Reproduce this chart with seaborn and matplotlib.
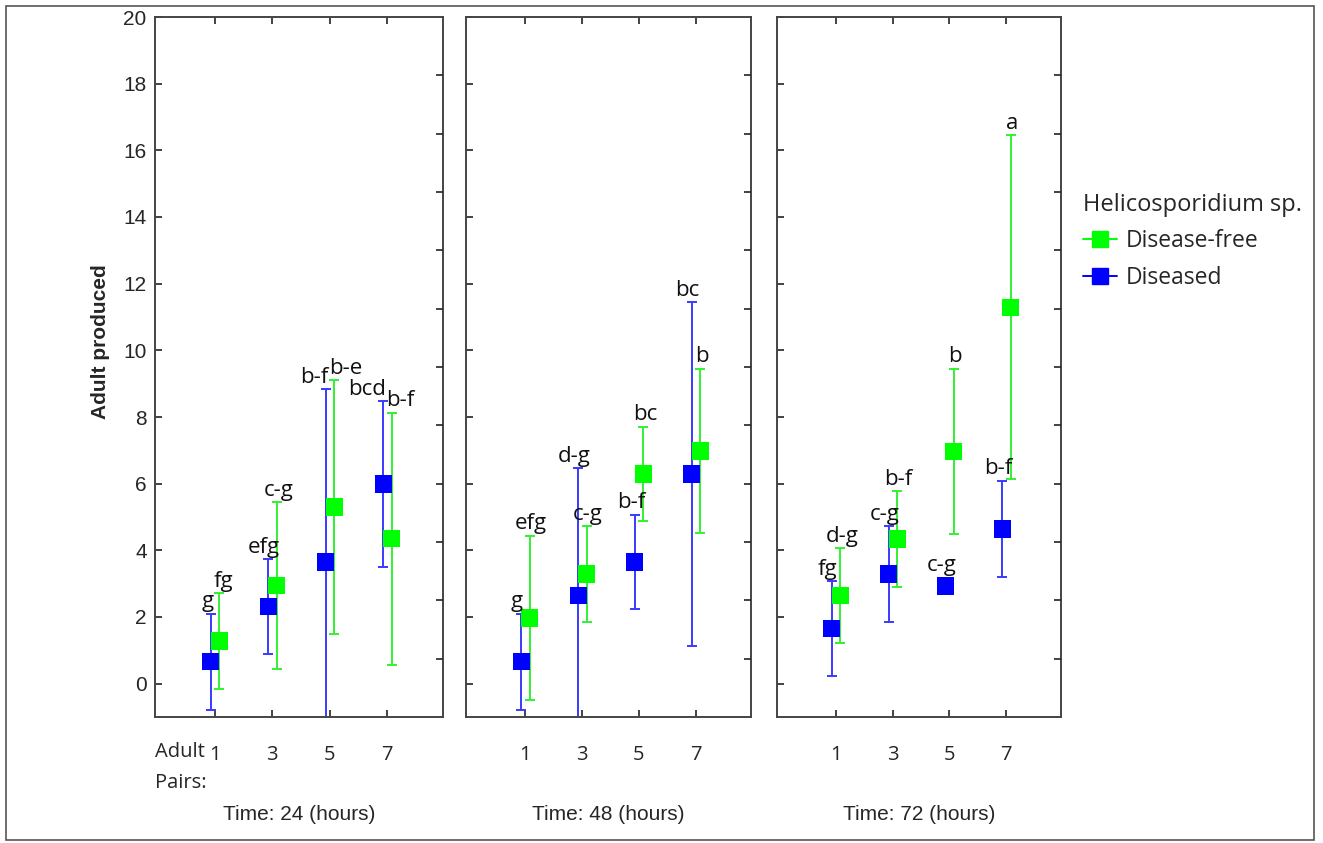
import numpy as np
import pandas as pd
import matplotlib
matplotlib.use("Agg")
import matplotlib.pyplot as plt
from matplotlib.lines import Line2D
from matplotlib.patches import Rectangle
import seaborn as sns

TIMES = ["24", "48", "72"]
PAIRS = ["1", "3", "5", "7"]
GROUPS = ["Disease-free", "Diseased"]

# mean adults produced, rows = time (24, 48, 72 h), cols = adult pairs (1, 3, 5, 7)
free_mean = [[1.28, 2.95, 5.30, 4.35],
             [1.97, 3.29, 6.29, 6.98],
             [2.64, 4.34, 6.97, 11.29]]
free_err = [[1.43, 2.50, 3.80, 3.78],
            [2.47, 1.44, 1.42, 2.47],
            [1.42, 1.44, 2.48, 5.16]]
sick_mean = [[0.66, 2.31, 3.65, 5.99],
             [0.66, 2.64, 3.65, 6.29],
             [1.65, 3.29, 2.93, 4.64]]
sick_err = [[1.44, 1.42, 5.18, 2.48],
            [1.44, 3.83, 1.42, 5.16],
            [1.43, 1.43, 0.00, 1.45]]
free_letters = [["fg", "c-g", "b-e", "b-f"],
                ["efg", "c-g", "bc", "b"],
                ["d-g", "b-f", "b", "a"]]
sick_letters = [["g", "efg", "b-f", "bcd"],
                ["g", "d-g", "b-f", "bc"],
                ["fg", "c-g", "c-g", "b-f"]]

COLORS = {"Disease-free": "#00FF00", "Diseased": "#0000FF"}
BAR_COLORS = {"Disease-free": "#33F033", "Diseased": "#3A3AFF"}
OFFSET = {"Disease-free": 0.08, "Diseased": -0.07}

rows = []
for ti, t in enumerate(TIMES):
    for pi, p in enumerate(PAIRS):
        rows.append([t, pi, p, "Disease-free", free_mean[ti][pi], free_err[ti][pi], free_letters[ti][pi]])
        rows.append([t, pi, p, "Diseased", sick_mean[ti][pi], sick_err[ti][pi], sick_letters[ti][pi]])
df = pd.DataFrame(rows, columns=["time", "idx", "pairs", "group", "mean", "err", "letter"])
df["x"] = df["idx"] + df["group"].map(OFFSET)
df["top"] = np.maximum(df["mean"] + df["err"], df["mean"] + 0.25)

sns.set_theme(style="white")
plt.rcParams["font.family"] = ["Liberation Sans", "DejaVu Sans"]

W, H = 1323, 843
fig = plt.figure(figsize=(W / 100, H / 100), dpi=100)
fig.patches.append(Rectangle((6 / W, 3 / H), 1308 / W, 834 / H, transform=fig.transFigure,
                             fill=False, edgecolor="#555555", linewidth=1.2))

panels = [(155, 288), (466, 285), (777, 284)]
top_px, bot_px = 17, 717

for i, t in enumerate(TIMES):
    left, width = panels[i]
    ax = fig.add_axes([left / W, 1 - bot_px / H, width / W, (bot_px - top_px) / H])
    sub = df[df["time"] == t]
    for g in GROUPS:
        s = sub[sub["group"] == g]
        ax.errorbar(s["x"], s["mean"], yerr=s["err"], fmt="none", ecolor=BAR_COLORS[g],
                    elinewidth=1.4, capsize=3.5, capthick=1.4, zorder=2)
    sns.scatterplot(data=sub, x="x", y="mean", hue="group", palette=COLORS, marker="s",
                    s=150, linewidth=0, legend=False, ax=ax, zorder=3)

    # significance letters above each bar; when both labels of a pair sit at
    # nearly the same height they are pushed apart sideways
    for pi in range(len(PAIRS)):
        pair = sub[sub["idx"] == pi].set_index("group")
        close = abs(pair.loc["Diseased", "top"] - pair.loc["Disease-free", "top"]) < 0.62
        for g in GROUPS:
            r = pair.loc[g]
            if close and g == "Diseased":
                ha, dx = "right", 2
            elif close:
                ha, dx = "left", -4
            elif g == "Diseased":
                ha, dx = "center", -3
            else:
                ha, dx = "center", 1
            ax.annotate(r["letter"], xy=(r["x"], r["top"]), xytext=(dx, 1), textcoords="offset points",
                        ha=ha, va="bottom", fontsize=16, family="Open Sans", color="#111111")

    ax.set_xlim(-1.04, 3.97)
    ax.set_ylim(-1, 20)
    ax.set_yticks(np.arange(0, 21, 2))
    ax.set_xticks(range(len(PAIRS)), PAIRS)
    ax.set_xlabel("")
    ax.set_ylabel("")
    ax.tick_params(axis="both", direction="in", length=5, width=1.2, color="#222222",
                   top=True, left=True, bottom=True, right=False)
    ax.tick_params(axis="x", pad=20, labelsize=14.5)
    for lab in ax.get_xticklabels():
        lab.set_family("Open Sans")
    if i == 0:
        ax.tick_params(axis="y", labelsize=15, pad=6)
    else:
        ax.tick_params(axis="y", labelleft=False)
    for sp in ax.spines.values():
        sp.set_color("#444444")
        sp.set_linewidth(1.4)
    # right-hand scale ticks (unlabelled)
    ax2 = ax.twinx()
    ax2.set_ylim(-1, 20)
    ax2.set_yticks(np.arange(0.75, 19, 1.75))
    ax2.tick_params(axis="y", direction="in", length=5, width=1.2, color="#222222", labelright=False)
    ax2.grid(False)
    for sp in ax2.spines.values():
        sp.set_visible(False)

    fig.text((left + width / 2) / W, 1 - 815 / H, "Time: %s (hours)" % t,
             ha="center", va="center", fontsize=15)

fig.text(100 / W, 1 - 342 / H, "Adult produced", rotation=90, ha="center", va="center",
         fontsize=15, fontweight="bold")
fig.text(155 / W, 1 - 752 / H, "Adult", ha="left", va="center", fontsize=14.5, family="Open Sans")
fig.text(155 / W, 1 - 783 / H, "Pairs:", ha="left", va="center", fontsize=14.5, family="Open Sans")

handles = [Line2D([], [], color=COLORS[g], marker="s", markersize=11, linewidth=1.4) for g in GROUPS]
leg = fig.legend(handles, GROUPS, title="Helicosporidium sp.", loc="upper left",
                 bbox_to_anchor=(1062 / W, 1 - 172 / H), frameon=False,
                 prop={"family": "Open Sans", "size": 16.5}, handlelength=1.5,
                 handletextpad=0.4, labelspacing=0.55, alignment="left")
leg.get_title().set_fontfamily("Open Sans")
leg.get_title().set_fontsize(17)

fig.savefig("out.png", dpi=100)
